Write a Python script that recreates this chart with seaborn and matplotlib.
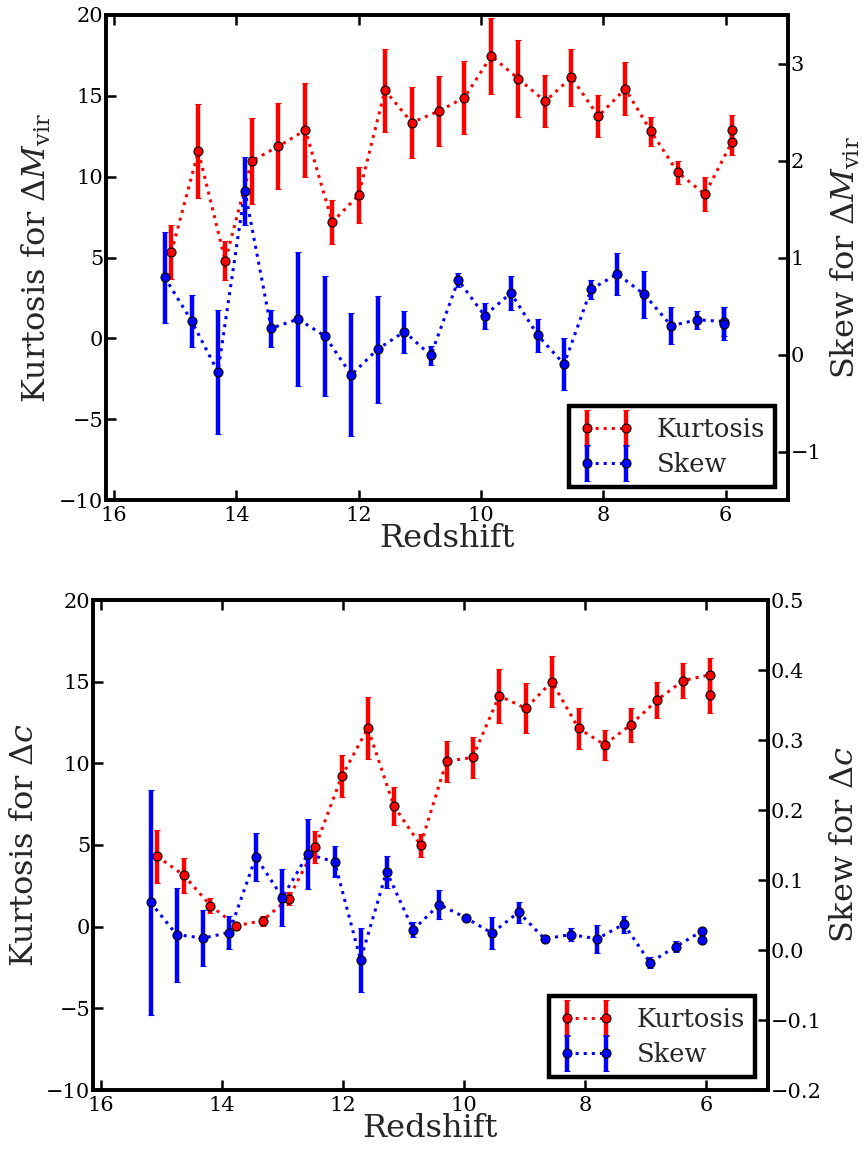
import matplotlib
matplotlib.use("Agg")
import matplotlib.pyplot as plt
from matplotlib.legend_handler import HandlerErrorbar
from matplotlib.container import ErrorbarContainer
import seaborn as sns
import numpy as np

# ---------------- data ----------------
# Top panel: Delta M_vir
z_kurt_m = [15.06, 14.62, 14.18, 13.75, 13.31, 12.87, 12.43, 12.00, 11.57, 11.13, 10.69,
            10.27, 9.83, 9.39, 8.95, 8.52, 8.08, 7.64, 7.22, 6.78, 6.34, 5.90, 5.90]
kurt_m = [5.34, 11.57, 4.79, 10.96, 11.88, 12.88, 7.19, 8.85, 15.34, 13.35, 14.05,
          14.89, 17.47, 16.06, 14.66, 16.14, 13.74, 15.44, 12.80, 10.26, 8.91, 12.12, 12.90]
kurt_m_err = [1.70, 2.90, 1.20, 2.65, 2.67, 2.90, 1.35, 1.72, 2.57, 2.20, 2.15,
              2.25, 2.37, 2.38, 1.60, 1.75, 1.30, 1.65, 0.90, 0.70, 1.05, 0.80, 0.90]

z_skew_m = [15.17, 14.73, 14.30, 13.86, 13.43, 12.99, 12.55, 12.12, 11.69, 11.25, 10.82,
            10.37, 9.94, 9.51, 9.07, 8.64, 8.20, 7.77, 7.33, 6.89, 6.46, 6.02, 6.02]
skew_m = [0.795, 0.345, -0.18, 1.69, 0.27, 0.365, 0.19, -0.21, 0.055, 0.235, -0.01,
          0.767, 0.40, 0.634, 0.197, -0.10, 0.672, 0.83, 0.62, 0.297, 0.358, 0.34, 0.317]
skew_m_err = [0.47, 0.265, 0.64, 0.35, 0.19, 0.69, 0.62, 0.635, 0.55, 0.215, 0.10,
              0.07, 0.135, 0.18, 0.17, 0.265, 0.10, 0.22, 0.245, 0.19, 0.09, 0.15, 0.17]

# Bottom panel: Delta c
z_kurt_c = [15.07, 14.63, 14.19, 13.76, 13.33, 12.90, 12.46, 12.02, 11.59, 11.16, 10.72,
            10.29, 9.86, 9.42, 8.98, 8.55, 8.11, 7.68, 7.25, 6.81, 6.38, 5.94, 5.94]
kurt_c = [4.30, 3.15, 1.29, 0.06, 0.37, 1.72, 4.87, 9.21, 12.16, 7.39, 4.99,
          10.13, 10.36, 14.13, 13.37, 15.00, 12.14, 11.14, 12.35, 13.88, 15.07, 15.42, 14.17]
kurt_c_err = [1.60, 1.08, 0.47, 0.25, 0.30, 0.42, 1.00, 1.27, 1.90, 1.18, 0.70,
              1.26, 1.23, 1.63, 1.53, 1.57, 1.24, 0.93, 1.03, 1.09, 1.08, 1.04, 1.09]

z_skew_c = [15.18, 14.75, 14.31, 13.88, 13.44, 13.00, 12.58, 12.14, 11.71, 11.28, 10.84,
            10.41, 9.97, 9.54, 9.10, 8.67, 8.24, 7.80, 7.36, 6.93, 6.50, 6.07, 6.07]
skew_c = [0.068, 0.022, 0.017, 0.025, 0.133, 0.075, 0.137, 0.126, -0.014, 0.112, 0.029,
          0.065, 0.046, 0.024, 0.054, 0.016, 0.022, 0.016, 0.037, -0.018, 0.005, 0.027, 0.015]
skew_c_err = [0.161, 0.067, 0.040, 0.023, 0.034, 0.041, 0.050, 0.022, 0.046, 0.023, 0.011,
              0.021, 0.002, 0.023, 0.015, 0.005, 0.009, 0.020, 0.012, 0.008, 0.008, 0.004, 0.004]

x_ticks = [16, 14, 12, 10, 8, 6]

# ---------------- style ----------------
sns.set_theme(style="white")
plt.rcParams["font.family"] = ["DejaVu Serif"]
plt.rcParams["mathtext.fontset"] = "dejavuserif"
plt.rcParams["axes.unicode_minus"] = True

fig = plt.figure(figsize=(8.65, 11.52), dpi=100)
W, H = 865.0, 1152.0


def make_panel(rect, zk, k, ke, zs, s, se, klabel, slabel, ylim2, yticks2, fmt2):
    left, top, right, bottom = rect
    ax = fig.add_axes([left / W, 1 - bottom / H, (right - left) / W, (bottom - top) / H])
    ax2 = ax.twinx()
    eb_kw = dict(fmt="o:", elinewidth=3.2, capsize=2.5, capthick=1.5, ms=6.5,
                 mec="black", mew=0.8, lw=2.2)
    hk = ax.errorbar(zk, k, yerr=ke, color="red", ecolor="red", mfc="red", label="Kurtosis", **eb_kw)
    hs = ax2.errorbar(zs, s, yerr=se, color="blue", ecolor="blue", mfc="blue", label="Skew", **eb_kw)

    ax.set_xlim(16.13, 4.98)
    ax.set_ylim(-10, 20)
    ax.set_xticks(x_ticks)
    ax.set_yticks([-10, -5, 0, 5, 10, 15, 20])
    ax2.set_ylim(*ylim2)
    ax2.set_yticks(yticks2)
    ax2.set_yticklabels([fmt2.format(v).replace("-", "\u2212") for v in yticks2])

    for a in (ax, ax2):
        for sp in a.spines.values():
            sp.set_linewidth(2.6)
            sp.set_color("black")
        a.grid(False)
    ax.tick_params(axis="x", which="major", direction="in", length=7, width=1.8,
                   top=True, bottom=True, labelsize=15, pad=4, colors="black")
    ax.tick_params(axis="y", which="major", direction="in", length=7, width=1.8,
                   left=True, right=False, labelsize=15, pad=2, colors="black")
    ax2.tick_params(axis="y", which="major", direction="in", length=7, width=1.8,
                    right=True, left=False, labelsize=15, pad=2, colors="black")

    ax.set_xlabel("Redshift", fontsize=23, labelpad=-1)
    ax.set_ylabel(klabel, fontsize=23, labelpad=4)
    ax2.set_ylabel(slabel, fontsize=23, labelpad=5)

    leg = ax2.legend([hk, hs], ["Kurtosis", "Skew"], loc="lower right", fontsize=18.5,
                     numpoints=2, frameon=True, fancybox=False, framealpha=1,
                     edgecolor="black", borderaxespad=0.5, handlelength=2.1,
                     handletextpad=0.9, borderpad=0.4, labelspacing=0.4,
                     handler_map={ErrorbarContainer: HandlerErrorbar(yerr_size=0.7)})
    leg.get_frame().set_linewidth(3.2)
    return ax, ax2


make_panel((106, 15, 788, 500), z_kurt_m, kurt_m, kurt_m_err, z_skew_m, skew_m, skew_m_err,
           r"Kurtosis for $\Delta M_{\rm vir}$", r"Skew for $\Delta M_{\rm vir}$",
           (-1.5, 3.5), [-1, 0, 1, 2, 3], "{:.0f}")
make_panel((93, 600, 768, 1090), z_kurt_c, kurt_c, kurt_c_err, z_skew_c, skew_c, skew_c_err,
           r"Kurtosis for $\Delta c$", r"Skew for $\Delta c$",
           (-0.2, 0.5), [-0.2, -0.1, 0.0, 0.1, 0.2, 0.3, 0.4, 0.5], "{:.1f}")

fig.savefig("out.png", dpi=100, facecolor="white")
